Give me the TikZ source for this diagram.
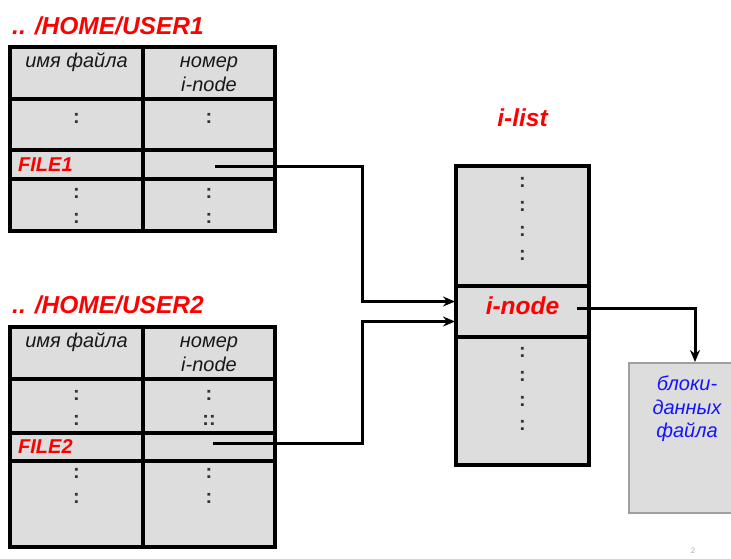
\documentclass[tikz,border=0pt]{standalone}
\usepackage{fontspec}
\setmainfont{Liberation Sans}
\usetikzlibrary{positioning,arrows.meta}
\definecolor{cellgray}{RGB}{221,221,221}
\definecolor{datablue}{RGB}{20,20,255}
\tikzset{
	>={Stealth[length=12pt,width=10pt]},
	cell/.style={
		rectangle,
		draw=black, line width=3.2pt,
		fill=cellgray,
		inner sep=0pt, outer sep=0pt},
	datablock/.style={
		rectangle,
		draw=gray!75, line width=1.8pt,
		fill=cellgray,
		inner sep=0pt, outer sep=0pt},
	dirname/.style={
		font=\fontsize{24.5}{24.5}\selectfont\bfseries\itshape,
		text=red, inner sep=0pt},
	fname/.style={
		font=\fontsize{20}{20}\selectfont\bfseries\itshape,
		text=red, inner sep=0pt},
	head/.style={
		font=\fontsize{20}{24}\selectfont\itshape,
		text=black!90, align=center, inner sep=0pt},
	dots/.style={
		font=\fontsize{20}{24.6}\selectfont\bfseries,
		text=black!80, align=center, inner sep=0pt},
	link/.style={draw, line width=3pt, ->, shorten >=1pt},
}

\begin{document}
\begin{tikzpicture}[x=1pt,y=-1pt]
\useasboundingbox (0,0) rectangle (731,558);

% directory USER1
\node[cell, anchor=north west, minimum width=133pt, minimum height=52pt] (h1a) at (10,47) {};
\node[cell, minimum width=132pt, minimum height=52pt, right=0pt of h1a] (h1b) {};
\node[cell, minimum width=133pt, minimum height=51pt, below=0pt of h1a] (r1a) {};
\node[cell, minimum width=132pt, minimum height=51pt, right=0pt of r1a] (r1b) {};
\node[cell, minimum width=133pt, minimum height=29pt, below=0pt of r1a] (f1a) {};
\node[cell, minimum width=132pt, minimum height=29pt, right=0pt of f1a] (f1b) {};
\node[cell, minimum width=133pt, minimum height=52pt, below=0pt of f1a] (l1a) {};
\node[cell, minimum width=132pt, minimum height=52pt, right=0pt of l1a] (l1b) {};

\node[dirname, anchor=west] (user1) at ([xshift=2pt,yshift=21pt]h1a.north west) {.. /HOME/USER1};
\node[head] (name1) at ([yshift=-15pt]h1a.north) {имя файла};
\node[head] (num1) at ([yshift=-27pt]h1b.north) {номер\\i-node};
\node[dots] (d1a) at ([yshift=-19pt]r1a.north) {:};
\node[dots] (d1b) at ([yshift=-19pt]r1b.north) {:};
\node[fname, anchor=west] (file1) at ([xshift=8pt]f1a.west) {FILE1};
\node[dots] (e1a) at ([yshift=-27pt]l1a.north) {:\\:};
\node[dots] (e1b) at ([yshift=-27pt]l1b.north) {:\\:};

% directory USER2
\node[cell, anchor=north west, minimum width=133pt, minimum height=52pt] (h2a) at (10,327) {};
\node[cell, minimum width=132pt, minimum height=52pt, right=0pt of h2a] (h2b) {};
\node[cell, minimum width=133pt, minimum height=54pt, below=0pt of h2a] (r2a) {};
\node[cell, minimum width=132pt, minimum height=54pt, right=0pt of r2a] (r2b) {};
\node[cell, minimum width=133pt, minimum height=28pt, below=0pt of r2a] (f2a) {};
\node[cell, minimum width=132pt, minimum height=28pt, right=0pt of f2a] (f2b) {};
\node[cell, minimum width=133pt, minimum height=86pt, below=0pt of f2a] (l2a) {};
\node[cell, minimum width=132pt, minimum height=86pt, right=0pt of l2a] (l2b) {};

\node[dirname, anchor=west] (user2) at ([xshift=2pt,yshift=22pt]h2a.north west) {.. /HOME/USER2};
\node[head] (name2) at ([yshift=-15pt]h2a.north) {имя файла};
\node[head] (num2) at ([yshift=-27pt]h2b.north) {номер\\i-node};
\node[dots] (d2a) at ([yshift=-29pt]r2a.north) {:\\:};
\node[dots] (d2b) at ([yshift=-29pt]r2b.north) {:\\::};
\node[fname, anchor=west] (file2) at ([xshift=8pt]f2a.west) {FILE2};
\node[dots] (e2a) at ([yshift=-25pt]l2a.north) {:\\:};
\node[dots] (e2b) at ([yshift=-25pt]l2b.north) {:\\:};

% i-list
\node[cell, anchor=north west, minimum width=133pt, minimum height=120pt] (itop) at (456,166) {};
\node[cell, minimum width=133pt, minimum height=51pt, below=0pt of itop] (inode) {};
\node[cell, minimum width=133pt, minimum height=128pt, below=0pt of inode] (ibot) {};
\node[dirname] (ilabel) at ([yshift=48pt]itop.north) {i-list};
\node[dirname] (inodetxt) at ([yshift=6pt]inode.center) {i-node};
\node[dots] (itopdots) at ([yshift=-53pt]itop.north) {:\\:\\:\\:};
\node[dots] (ibotdots) at ([yshift=-52pt]ibot.north) {:\\:\\:\\:};

% data blocks
\node[datablock, anchor=north west, minimum width=116pt, minimum height=150pt] (data) at (629,363) {};
\node[head, text=datablue, font=\fontsize{20}{23.5}\selectfont\itshape] (datatxt) at ([yshift=-46pt]data.north) {блоки-\\данных\\файла};

\node[font=\fontsize{8}{8}\selectfont, text=gray!60, inner sep=0pt] (pagenum) at (693,551) {2};

% links
\draw[link] ([xshift=6pt,yshift=-1.5pt]f1b.center) -- ++(147,0) |- ([yshift=10pt]inode.west);
\draw[link] ([xshift=4pt,yshift=4pt]f2b.center) -- ++(149,0) |- ([yshift=-10pt]inode.west);
\draw[link] ([xshift=18pt,yshift=-3pt]inodetxt.east) -| ([xshift=8pt]data.north);

\end{tikzpicture}
\end{document}
